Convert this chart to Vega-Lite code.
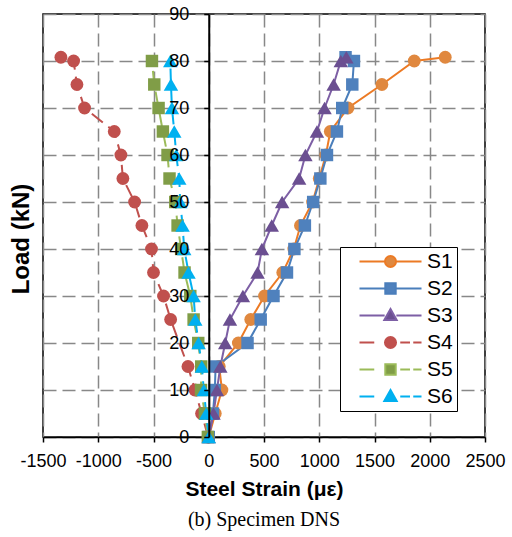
{
  "$schema": "https://vega.github.io/schema/vega-lite/v6.json",
  "width": 442,
  "height": 423,
  "autosize": "none",
  "padding": {"left": 43, "top": 14, "right": 27, "bottom": 100},
  "background": "white",
  "config": {
    "view": {"stroke": "black", "strokeWidth": 1.5},
    "font": "Liberation Sans",
    "legend": {
      "title": null,
      "orient": "none",
      "legendX": 297,
      "legendY": 233,
      "strokeColor": "black",
      "fillColor": "white",
      "padding": 4,
      "labelFontSize": 21,
      "labelFont": "Liberation Sans",
      "labelColor": "black",
      "symbolSize": 169,
      "symbolStrokeWidth": 2,
      "rowPadding": 5,
      "symbolOffset": 36,
      "labelOffset": 26,
      "labelLimit": 100
    }
  },
  "title": {
    "text": "(b) Specimen DNS",
    "orient": "bottom",
    "font": "Liberation Serif",
    "fontSize": 20,
    "fontWeight": "normal",
    "color": "black",
    "offset": 11
  },
  "data": {
    "values": [
      {"s": "S1", "load": 0, "strain": 0},
      {"s": "S1", "load": 5, "strain": 59},
      {"s": "S1", "load": 10, "strain": 119},
      {"s": "S1", "load": 15, "strain": 95},
      {"s": "S1", "load": 20, "strain": 268},
      {"s": "S1", "load": 25, "strain": 380},
      {"s": "S1", "load": 30, "strain": 505},
      {"s": "S1", "load": 35, "strain": 670},
      {"s": "S1", "load": 40, "strain": 770},
      {"s": "S1", "load": 45, "strain": 830},
      {"s": "S1", "load": 50, "strain": 940},
      {"s": "S1", "load": 55, "strain": 1000},
      {"s": "S1", "load": 60, "strain": 1060},
      {"s": "S1", "load": 65, "strain": 1100},
      {"s": "S1", "load": 70, "strain": 1260},
      {"s": "S1", "load": 75, "strain": 1567},
      {"s": "S1", "load": 80, "strain": 1860},
      {"s": "S1", "load": 80.8, "strain": 2140},
      {"s": "S2", "load": 0, "strain": 0},
      {"s": "S2", "load": 5, "strain": 38},
      {"s": "S2", "load": 10, "strain": 55},
      {"s": "S2", "load": 15, "strain": 62},
      {"s": "S2", "load": 20, "strain": 351},
      {"s": "S2", "load": 25, "strain": 470},
      {"s": "S2", "load": 30, "strain": 586},
      {"s": "S2", "load": 35, "strain": 708},
      {"s": "S2", "load": 40, "strain": 775},
      {"s": "S2", "load": 45, "strain": 870},
      {"s": "S2", "load": 50, "strain": 945},
      {"s": "S2", "load": 55, "strain": 1010},
      {"s": "S2", "load": 60, "strain": 1070},
      {"s": "S2", "load": 65, "strain": 1160},
      {"s": "S2", "load": 70, "strain": 1208},
      {"s": "S2", "load": 75, "strain": 1299},
      {"s": "S2", "load": 80, "strain": 1314},
      {"s": "S2", "load": 80.8, "strain": 1238},
      {"s": "S3", "load": 0, "strain": 0},
      {"s": "S3", "load": 5, "strain": 43},
      {"s": "S3", "load": 10, "strain": 74},
      {"s": "S3", "load": 15, "strain": 105},
      {"s": "S3", "load": 20, "strain": 149},
      {"s": "S3", "load": 25, "strain": 192},
      {"s": "S3", "load": 30, "strain": 309},
      {"s": "S3", "load": 35, "strain": 442},
      {"s": "S3", "load": 40, "strain": 481},
      {"s": "S3", "load": 45, "strain": 570},
      {"s": "S3", "load": 50, "strain": 664},
      {"s": "S3", "load": 55, "strain": 818},
      {"s": "S3", "load": 60, "strain": 875},
      {"s": "S3", "load": 65, "strain": 979},
      {"s": "S3", "load": 70, "strain": 1048},
      {"s": "S3", "load": 75, "strain": 1130},
      {"s": "S3", "load": 80, "strain": 1195},
      {"s": "S3", "load": 80.8, "strain": 1245},
      {"s": "S4", "load": 0, "strain": -5},
      {"s": "S4", "load": 5, "strain": -65},
      {"s": "S4", "load": 10, "strain": -125},
      {"s": "S4", "load": 15, "strain": -188},
      {"s": "S4", "load": 25, "strain": -345},
      {"s": "S4", "load": 30, "strain": -409},
      {"s": "S4", "load": 35, "strain": -500},
      {"s": "S4", "load": 40, "strain": -518},
      {"s": "S4", "load": 45, "strain": -605},
      {"s": "S4", "load": 50, "strain": -671},
      {"s": "S4", "load": 55, "strain": -777},
      {"s": "S4", "load": 60, "strain": -795},
      {"s": "S4", "load": 65, "strain": -855},
      {"s": "S4", "load": 70, "strain": -1124},
      {"s": "S4", "load": 75, "strain": -1193},
      {"s": "S4", "load": 80, "strain": -1223},
      {"s": "S4", "load": 80.8, "strain": -1338},
      {"s": "S5", "load": 0, "strain": -8},
      {"s": "S5", "load": 5, "strain": -35},
      {"s": "S5", "load": 10, "strain": -70},
      {"s": "S5", "load": 15, "strain": -68},
      {"s": "S5", "load": 20, "strain": -95},
      {"s": "S5", "load": 25, "strain": -137},
      {"s": "S5", "load": 30, "strain": -167},
      {"s": "S5", "load": 35, "strain": -219},
      {"s": "S5", "load": 40, "strain": -250},
      {"s": "S5", "load": 45, "strain": -282},
      {"s": "S5", "load": 50, "strain": -303},
      {"s": "S5", "load": 55, "strain": -355},
      {"s": "S5", "load": 60, "strain": -373},
      {"s": "S5", "load": 65, "strain": -415},
      {"s": "S5", "load": 70, "strain": -454},
      {"s": "S5", "load": 75, "strain": -493},
      {"s": "S5", "load": 80, "strain": -514},
      {"s": "S6", "load": 0, "strain": 0},
      {"s": "S6", "load": 5, "strain": -23},
      {"s": "S6", "load": 10, "strain": -45},
      {"s": "S6", "load": 15, "strain": -62},
      {"s": "S6", "load": 20, "strain": -92},
      {"s": "S6", "load": 25, "strain": -122},
      {"s": "S6", "load": 30, "strain": -137},
      {"s": "S6", "load": 35, "strain": -183},
      {"s": "S6", "load": 40, "strain": -222},
      {"s": "S6", "load": 45, "strain": -237},
      {"s": "S6", "load": 50, "strain": -258},
      {"s": "S6", "load": 55, "strain": -267},
      {"s": "S6", "load": 60, "strain": -294},
      {"s": "S6", "load": 65, "strain": -312},
      {"s": "S6", "load": 70, "strain": -333},
      {"s": "S6", "load": 75, "strain": -342},
      {"s": "S6", "load": 80, "strain": -348}
    ]
  },
  "encoding": {
    "x": {
      "field": "strain",
      "type": "quantitative",
      "scale": {"domain": [-1500, 2500], "nice": false, "zero": false},
      "axis": {
        "values": [-1500, -1000, -500, 0, 500, 1000, 1500, 2000, 2500],
        "grid": true,
        "gridDash": [13, 6],
        "gridColor": "#888888",
        "gridWidth": 1.5,
        "domainColor": "black",
        "domainWidth": 1.5,
        "tickColor": "black",
        "tickSize": 5,
        "tickWidth": 1.5,
        "labelFontSize": 18,
        "labelFont": "Liberation Sans",
        "labelColor": "black",
        "labelPadding": 10,
        "labelFlush": false,
        "labelExpr": "datum.value < 0 ? '-' + (-datum.value) : '' + datum.value",
        "title": "Steel Strain (με)",
        "titleFont": "Liberation Sans",
        "titleFontSize": 21,
        "titleFontWeight": "bold",
        "titleColor": "black",
        "titlePadding": 8,
        "zindex": 0
      }
    },
    "stroke": {
      "field": "s",
      "type": "nominal",
      "scale": {
        "domain": ["S1", "S2", "S3", "S4", "S5", "S6"],
        "range": ["#EC7A24", "#4A7EBB", "#7D5FA5", "#C0504D", "#9BBB59", "#00B0F0"]
      }
    }
  },
  "layer": [
    {
      "transform": [{"filter": {"field": "s", "oneOf": ["S1", "S2", "S3"]}}],
      "mark": {"type": "line", "strokeWidth": 2},
      "encoding": {
        "y": {
          "field": "load",
          "type": "quantitative",
          "scale": {"domain": [0, 90], "nice": false},
          "axis": {
            "orient": "left",
            "values": [0, 10, 20, 30, 40, 50, 60, 70, 80, 90],
            "grid": true,
            "gridDash": [13, 6],
            "gridColor": "#888888",
            "gridWidth": 1.5,
            "domain": false,
            "ticks": false,
            "labels": false,
            "title": null,
            "zindex": 0
          }
        },
        "order": {"field": "load", "type": "quantitative"}
      }
    },
    {
      "transform": [{"filter": {"field": "s", "oneOf": ["S4", "S5", "S6"]}}],
      "mark": {"type": "line", "strokeWidth": 2, "strokeDash": [14, 7]},
      "encoding": {
        "y": {"field": "load", "type": "quantitative", "scale": {"domain": [0, 90], "nice": false}, "axis": null},
        "order": {"field": "load", "type": "quantitative"}
      }
    },
    {
      "transform": [{"filter": {"field": "s", "oneOf": ["S1", "S4"]}}],
      "mark": {"type": "point", "shape": "circle", "filled": true, "opacity": 1, "size": 165, "strokeWidth": 0},
      "encoding": {
        "y": {"field": "load", "type": "quantitative", "scale": {"domain": [0, 90], "nice": false}, "axis": null},
        "fill": {
          "field": "s",
          "type": "nominal",
          "scale": {
            "domain": ["S1", "S2", "S3", "S4", "S5", "S6"],
            "range": ["#E0883F", "#4F81BD", "#6B4F91", "#C0504D", "#809D47", "#00B0F0"]
          }
        }
      }
    },
    {
      "transform": [{"filter": {"field": "s", "oneOf": ["S2", "S5"]}}],
      "mark": {"type": "point", "shape": "square", "filled": true, "opacity": 1, "size": 155, "strokeWidth": 0},
      "encoding": {
        "y": {"field": "load", "type": "quantitative", "scale": {"domain": [0, 90], "nice": false}, "axis": null},
        "fill": {
          "field": "s",
          "type": "nominal",
          "scale": {
            "domain": ["S1", "S2", "S3", "S4", "S5", "S6"],
            "range": ["#E0883F", "#4F81BD", "#6B4F91", "#C0504D", "#809D47", "#00B0F0"]
          }
        }
      }
    },
    {
      "transform": [{"filter": {"field": "s", "oneOf": ["S3", "S6"]}}],
      "mark": {"type": "point", "shape": "triangle-up", "filled": true, "opacity": 1, "size": 210, "strokeWidth": 0},
      "encoding": {
        "y": {
          "field": "load",
          "type": "quantitative",
          "scale": {"domain": [0, 90], "nice": false},
          "axis": {
            "orient": "left",
            "offset": -165.75,
            "values": [0, 10, 20, 30, 40, 50, 60, 70, 80, 90],
            "grid": false,
            "domain": true,
            "domainColor": "black",
            "domainWidth": 2,
            "ticks": true,
            "tickColor": "black",
            "tickSize": 5,
            "tickWidth": 1.5,
            "labelFontSize": 18,
            "labelFont": "Liberation Sans",
            "labelColor": "black",
            "labelPadding": 15,
            "labelFlush": false,
            "title": "Load (kN)",
            "titleFont": "Liberation Sans",
            "titleFontSize": 24,
            "titleFontWeight": "bold",
            "titleColor": "black",
            "titleX": -175,
            "titleY": 224.5,
            "zindex": 2
          }
        },
        "fill": {
          "field": "s",
          "type": "nominal",
          "scale": {
            "domain": ["S1", "S2", "S3", "S4", "S5", "S6"],
            "range": ["#E0883F", "#4F81BD", "#6B4F91", "#C0504D", "#809D47", "#00B0F0"]
          }
        }
      }
    },
    {
      "transform": [{"filter": "datum.load < 0"}],
      "mark": {"type": "point", "filled": true, "opacity": 1, "strokeWidth": 2},
      "encoding": {
        "y": {"field": "load", "type": "quantitative", "scale": {"domain": [0, 90], "nice": false}, "axis": null},
        "shape": {
          "field": "s",
          "type": "nominal",
          "scale": {
            "domain": ["S1", "S2", "S3", "S4", "S5", "S6"],
            "range": [
              "M-4.77,0L-0.9,0M0.9,0L4.77,0M-0.85,0A0.85,0.85,0,1,1,0.85,0A0.85,0.85,0,1,1,-0.85,0Z",
              "M-4.77,0L-0.9,0M0.9,0L4.77,0M-0.8,-0.8L0.8,-0.8L0.8,0.8L-0.8,0.8Z",
              "M-4.77,0L-0.9,0M0.9,0L4.77,0M0,-1L0.95,0.7L-0.95,0.7Z",
              "M-4.77,0L-2.5,0M1.5,0L3,0M3.5,0L4.77,0M-0.85,0A0.85,0.85,0,1,1,0.85,0A0.85,0.85,0,1,1,-0.85,0Z",
              "M-4.77,0L-2.5,0M1.5,0L3,0M3.5,0L4.77,0M-0.8,-0.8L0.8,-0.8L0.8,0.8L-0.8,0.8Z",
              "M-4.77,0L-2.5,0M1.5,0L3,0M3.5,0L4.77,0M0,-1L0.95,0.7L-0.95,0.7Z"
            ]
          }
        },
        "fill": {
          "field": "s",
          "type": "nominal",
          "scale": {
            "domain": ["S1", "S2", "S3", "S4", "S5", "S6"],
            "range": ["#E0883F", "#4F81BD", "#6B4F91", "#C0504D", "#809D47", "#00B0F0"]
          }
        }
      }
    }
  ],
  "resolve": {"axis": {"y": "independent"}}
}
